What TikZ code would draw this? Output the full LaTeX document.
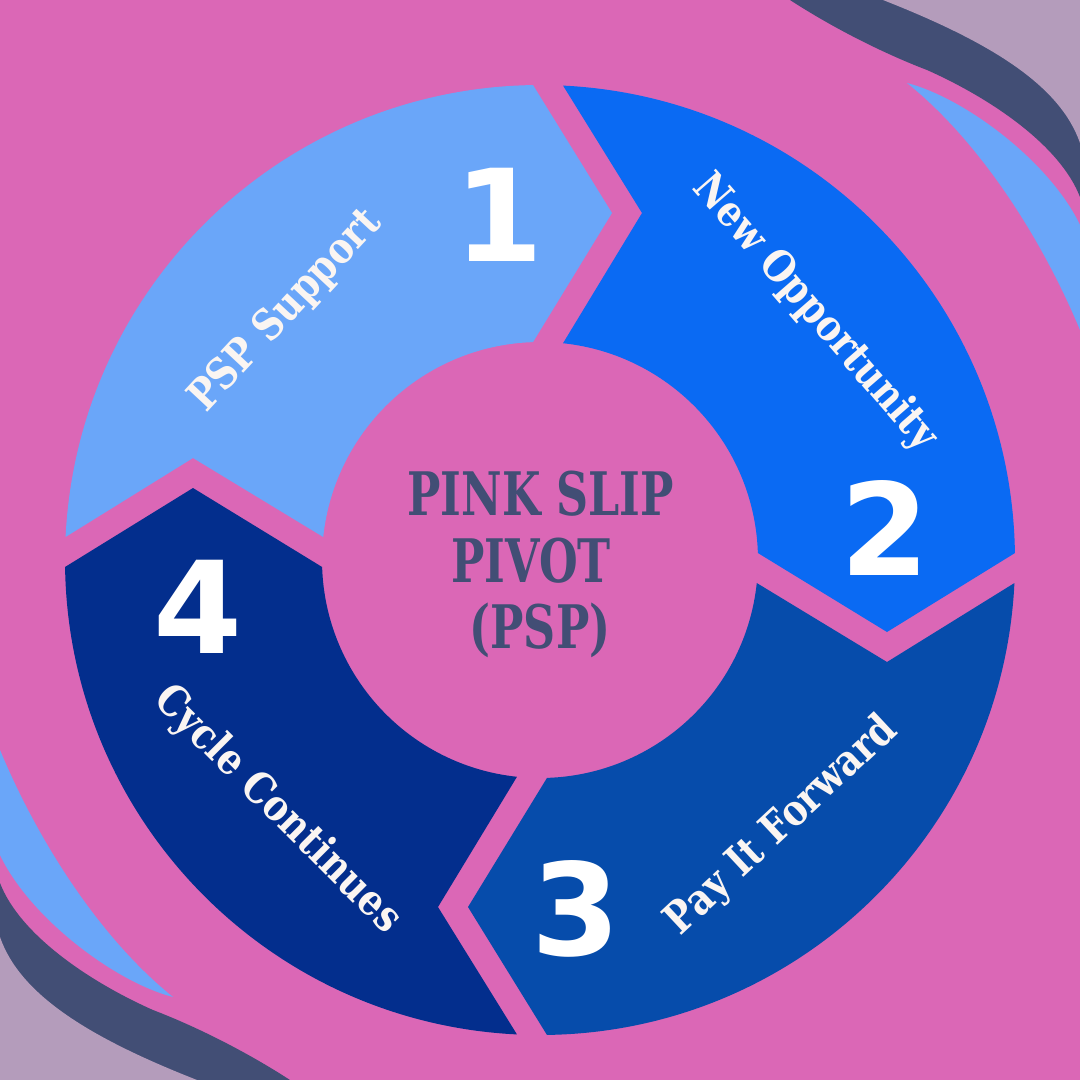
\documentclass[tikz,border=0pt]{standalone}
\usepackage{fontspec}
\newfontfamily\labelfont[FakeStretch=0.85]{DejaVu Serif}
\newfontfamily\titlefont[FakeStretch=0.74]{DejaVu Serif}
\newfontfamily\numfont{DejaVu Sans}
\definecolor{bgpink}{HTML}{DB67B6}
\definecolor{slate}{HTML}{424E75}
\definecolor{lavender}{HTML}{B49CBB}
\definecolor{skyblue}{HTML}{6AA6F9}
\definecolor{ablue1}{HTML}{6AA6F9}
\definecolor{ablue2}{HTML}{0A6AF3}
\definecolor{ablue3}{HTML}{064CAB}
\definecolor{ablue4}{HTML}{032E8D}
\definecolor{offwhite}{HTML}{FAF5F2}
\begin{document}
\begin{tikzpicture}[x=1pt,y=1pt,
  lbl/.style={text=offwhite,inner sep=0pt,font=\labelfont\bfseries\fontsize{43}{50}\selectfont},
  num/.style={text=white,inner sep=0pt,font=\numfont\bfseries\fontsize{128}{130}\selectfont},
  ttl/.style={text=slate,inner sep=0pt,anchor=base,font=\titlefont\bfseries\fontsize{60}{67}\selectfont}]
\useasboundingbox (0,0) rectangle (1080,-1080);
\fill[bgpink] (0,0) rectangle (1080,-1080);
% corner waves (top-right, and the same turned by 180 degrees at bottom-left)
\foreach \r in {0,180}{
  \begin{scope}[rotate around={\r:(540,-540)}]
    \fill[slate] (790,0) .. controls (830,-26) and (880,-52) .. (927,-70)
      .. controls (990,-98) and (1060,-145) .. (1080,-197) -- (1080,0) -- cycle;
    \fill[lavender] (883,0) .. controls (990,-42) and (1060,-85) .. (1080,-143) -- (1080,0) -- cycle;
    \fill[skyblue] (907,-83) .. controls (965,-98) and (1050,-162) .. (1080,-225)
      -- (1080,-330) .. controls (1040,-234) and (977,-139) .. (907,-83) -- cycle;
  \end{scope}
}
% ring of four arrows
\foreach \k/\col in {0/ablue1,1/ablue2,2/ablue3,3/ablue4}{
  \fill[\col,shift={(540,-560)},rotate=-90*\k]
    (177.22:475) arc[start angle=177.22,end angle=90.84,radius=475]
    -- (72,347) -- (91.84:218) arc[start angle=91.84,end angle=173.94,radius=218]
    -- (-347,102) -- cycle;
}
% centre
\node[circle,minimum size=436pt,inner sep=0pt] (hub) at (540,-560) {};
\node[ttl] (t1) at (540.5,-515) {PINK SLIP};
\node[ttl] (t2) at (531,-582) {PIVOT};
\node[ttl] (t3) at (540,-648) {(PSP)};
% numbers
\node[num] (n1) at (499,-215) {1};
\node[num] (n2) at (885,-528) {2};
\node[num] (n3) at (576,-909) {3};
\node[num] (n4) at (198,-607) {4};
% labels
\node[lbl,rotate=47] (l1) at (286,-311) {PSP Support};
\node[lbl,rotate=-49] (l2) at (815,-313) {New Opportunity};
\node[lbl,rotate=43] (l3) at (782,-826) {Pay It Forward};
\node[lbl,rotate=-45] (l4) at (277,-810) {Cycle Continues};
\end{tikzpicture}
\end{document}
